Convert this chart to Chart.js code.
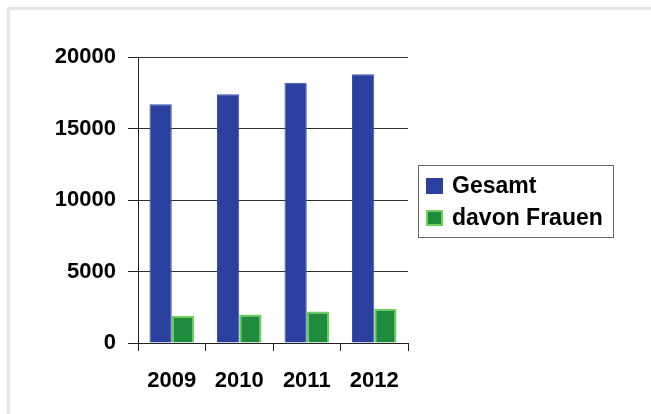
<!DOCTYPE html>
<html>
<head>
<meta charset="utf-8">
<script src="https://cdn.jsdelivr.net/npm/chart.js@4/dist/chart.umd.min.js"></script>
<style>
  html, body { margin: 0; padding: 0; background: #fff; }
  #rahmen {
    position: absolute; left: 7px; top: 7px; width: 644px; height: 407px;
    border-top: 3px solid #e6e6e6; border-left: 3px solid #e6e6e6;
    box-sizing: border-box;
  }
  #chart { position: absolute; left: 0; top: 0; }
</style>
</head>
<body>
<div id="rahmen"></div>
<canvas id="chart" width="651" height="414"></canvas>
<script>
'use strict';

var jahre   = ['2009', '2010', '2011', '2012'];
var gesamt  = [16700, 17400, 18200, 18800];
var frauen  = [1900, 2000, 2200, 2400];
var yTicks  = [0, 5000, 10000, 15000, 20000];

var schrift = '"Liberation Sans", Arial, sans-serif';

// Legende mit Rahmen rechts neben dem Diagramm
var legendeBox = {
  id: 'legendeBox',
  afterDraw: function(chart) {
    var ctx = chart.ctx;
    ctx.save();
    ctx.strokeStyle = '#6b6b6b';
    ctx.lineWidth = 1;
    ctx.strokeRect(418.5, 165.5, 195, 72);
    ctx.font = 'bold 23px ' + schrift;
    ctx.textBaseline = 'middle';
    chart.data.datasets.forEach(function(ds, i) {
      var y = 178 + i * 32;
      ctx.fillStyle = ds.legendFill;
      ctx.fillRect(426, y, 17, 16);
      if (ds.borderWidth > 1) {
        ctx.strokeStyle = ds.borderColor;
        ctx.lineWidth = 2;
        ctx.strokeRect(427, y + 1, 15, 14);
      }
      ctx.fillStyle = '#000';
      ctx.fillText(ds.label, 452, y + 9);
    });
    ctx.restore();
  }
};

var ctx = document.getElementById('chart').getContext('2d');
new Chart(ctx, {
  type: 'bar',
  data: {
    labels: jahre,
    datasets: [
      { label: 'Gesamt', data: gesamt, backgroundColor: '#2a3f9e',
        borderColor: '#3a52b0', borderWidth: 1, legendFill: '#2a3f9e' },
      { label: 'davon Frauen', data: frauen, backgroundColor: '#1e8c3c',
        borderColor: '#6ccf58', borderWidth: 2, legendFill: '#1e8c3c' }
    ]
  },
  options: {
    responsive: false,
    animation: false,
    devicePixelRatio: 1,
    layout: { padding: { top: 57, right: 243, left: 0, bottom: 0 } },
    datasets: { bar: { categoryPercentage: 0.66, barPercentage: 1 } },
    scales: {
      x: {
        afterFit: function(s) { s.height = 71; },
        grid: {
          offset: true,
          drawOnChartArea: true,
          color: function(c) { return c.index === jahre.length ? '#555' : 'rgba(0,0,0,0)'; },
          tickColor: '#222',
          tickLength: 8
        },
        border: { display: true, color: '#222', width: 1 },
        ticks: { color: '#000', padding: 17, font: { family: schrift, size: 22, weight: 'bold' } }
      },
      y: {
        min: 0,
        max: 20000,
        afterFit: function(s) { s.width = 138; },
        afterBuildTicks: function(s) { s.ticks = yTicks.map(v => ({ value: v })); },
        grid: { color: '#333', tickColor: '#222', tickLength: 10 },
        border: { display: true, color: '#222', width: 1 },
        ticks: {
          color: '#000', padding: 12,
          font: { family: schrift, size: 22, weight: 'bold' },
          callback: function(v) { return String(v); }
        }
      }
    },
    plugins: {
      legend: { display: false },
      tooltip: { enabled: false }
    }
  },
  plugins: [legendeBox]
});
</script>
</body>
</html>
